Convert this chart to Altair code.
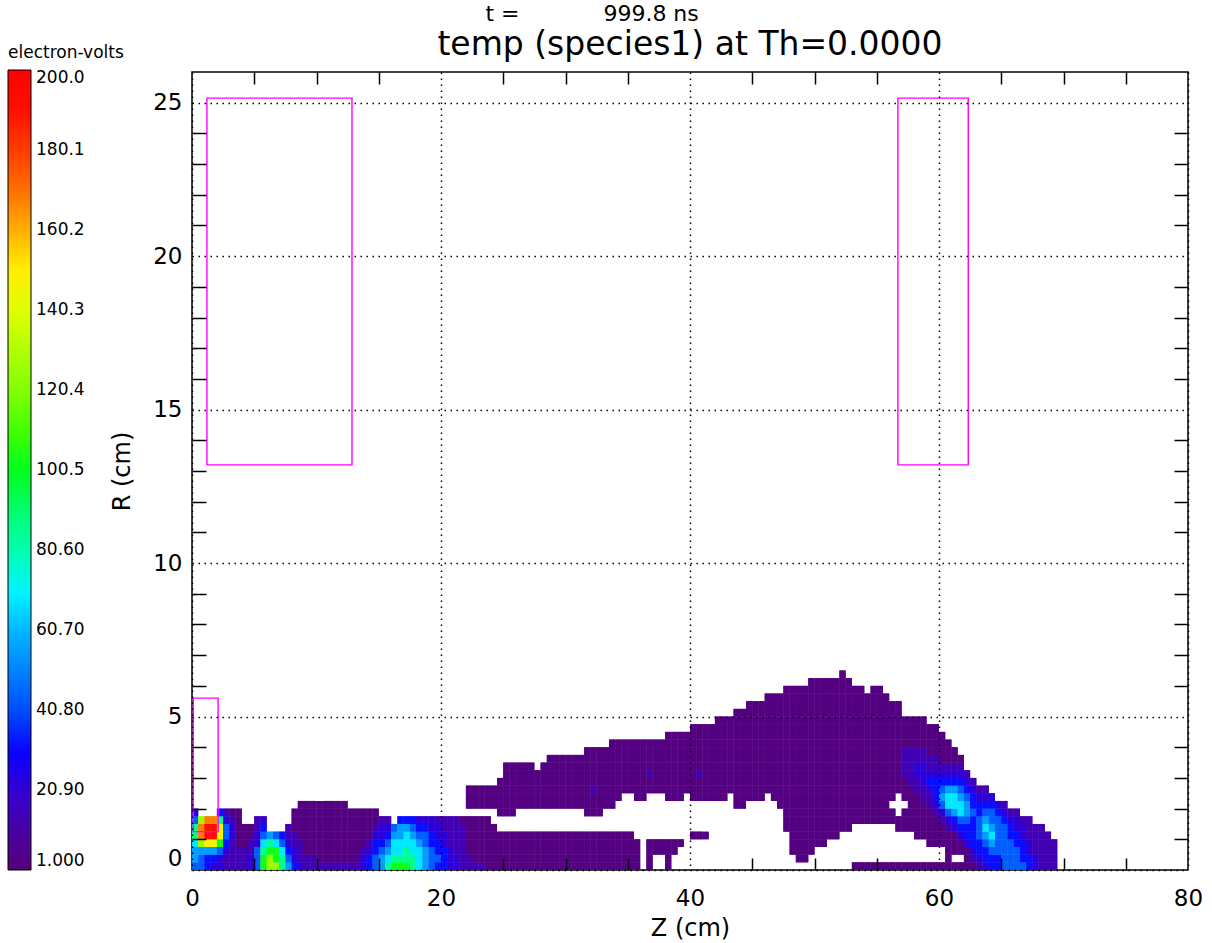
import altair as alt
import pandas as pd

# ------------------------------------------------------------------ data
FONT = "DejaVu Sans"

# field grid: each string is one Z column (width DZ), read bottom (R=0) upward,
# one character per DR-high cell; "." = no plasma, other chars = temperature level
DZ = 0.5
DR = 0.25
LEVEL_EV = {"0": 3, "1": 14, "2": 22, "3": 32, "4": 44, "5": 56, "6": 68,
            "7": 85, "8": 102, "9": 125, "a": 148, "b": 168, "c": 192}

FIELD_COLUMNS = [
    # Z 0 - 5
    "45567742", "4459bb9", "335accb", "235accb", "2248aa73",
    "11234421", "11112210", "11100000", "111000", "221100",
    # Z 5 - 10
    "4442211", "8876432", "99875", "98864", "77643",
    "543211", "32211000", "211100000", "110000000", "110000000",
    # Z 10 - 15
    "100000000", "100000000", "100000000", "100000000", "100000000",
    "10000000", "10000000", "22100000", "33210000", "44332100",
    # Z 15 - 20
    "5543221", "7654321", "876654", "8766553", "8776653",
    "7766543", "6665432", "5554432", "4443322", "3433221",
    # Z 20 - 25
    "3332211", "2221111", "2211111", "1111110", "1100000.000",
    "1000000.000", "1000000.000", "0000000.000", "000000..000", "00000..00000",
    # Z 25 - 30
    "00000..0000000", "00000..0000000", "00000...000000", "00000...000000", "00000...000000",
    "00000...00000", "00000...000000", "00000...0000000", "00000...0000000", "00000...0000000",
    # Z 30 - 35
    "00000...0000000", "00000...0000000", "00000...0000000", "00000..000000000", "00000..000100000",
    "00000..000000000", "00000...00000000", "00000...000000000", "00000....00000000", "00000.....0000000",
    # Z 35 - 40
    "00000.....0000000", "0000.....00000000", ".........00000000", "0000......0010000", "..00......0000000",
    "..00......0000000", "0000.....000000000", "..00.....000000000", "...0.....000000000", "..........00000000",
    # Z 40 - 45
    "....0....0000000000", "....0....0001000000", "....0....0000000000", ".........0000000000", ".........00000000000",
    ".........00000000000", "..........0000000000", "........0000000000000", "........0000000000000", ".........0000000000000",
    # Z 45 - 50
    ".........0000000000000", ".........0000000000000", "..........0000000000000", ".........00000000000000", "........000000000000000",
    ".....0000000000000000000", "..0000000000000000000000", ".00000000000000000000000", ".00000000000000000000000", "..00000000000000000000000",
    # Z 50 - 55
    "...0000000000000000000000", "...0000000000000000000000", "....000000000000000000000", "....000000000000000000000", ".....000000000000000000000",
    ".....00000000000000000000", "0.....000000000000000000", "0.....000000000000000000", "0.....00000000000000000", "0.....000000000000000000",
    # Z 55 - 60
    "0.....000000000000000000", "0.....00000000000000000", "0.....00.0000000000000", "0....00...000000000000", "0....000.00011110000",
    "0....000000111110000", "0...0000001122110000", "0...0000011222110000", "0..0000011232110000", "0..0000123332110000",
    # Z 60 - 65
    "0..000124543210000", "00000124665321000", "0.00023566532100", "0.0023466543210", "0002334554321",
    "012333343321", "12334443321", "23345654321", "3345654432", "334444432",
    # Z 65 - 70
    "444444321", "44443321", "44433221", "4333221", "3322111",
    "221111", "111111", "11111", "1111", "",
]

# magenta outline boxes (cm)
BOX_Z0 = [1.2, 56.7, 0.1]
BOX_Z1 = [12.85, 62.35, 2.1]
BOX_R0 = [13.2, 13.2, 1.25]
BOX_R1 = [25.15, 25.15, 5.6]

# axes
X_MAJOR = [0, 20, 40, 60, 80]
X_MINOR = [5, 10, 15, 25, 30, 35, 45, 50, 55, 65, 70, 75]
Y_MAJOR = [0, 5, 10, 15, 20, 25]
Y_MINOR = [1, 2, 3, 4, 6, 7, 8, 9, 11, 12, 13, 14, 16, 17, 18, 19, 21, 22, 23, 24]

# colour bar
CB_STOPS = [1, 10, 20, 30, 40, 50, 60, 70, 80, 90, 100, 110, 120, 130, 140,
            150, 160, 170, 180, 190, 200]
CB_COLORS = ["#550078", "#4a00a2", "#3600d0", "#0a00ff", "#0048ff", "#0080ff",
             "#00b4ff", "#00f4ff", "#00ffb4", "#00ff70", "#00ff20", "#40ff00",
             "#80ff00", "#b0ff00", "#e0ff00", "#fff000", "#ffb000", "#ff7000",
             "#ff3c00", "#ff1000", "#ff0000"]
CB_LABELS = [1.0, 20.9, 40.8, 60.7, 80.6, 100.5, 120.4, 140.3, 160.2, 180.1, 200.0]

NB = "\u00a0"
WJ = "\u2060"
TITLE_1 = "t =" + NB * 12 + "999.8 ns" + NB * 28 + WJ
TITLE_2 = "temp (species1) at Th=0.0000"

# ------------------------------------------------------------------ frames
cells = []
for c, col in enumerate(FIELD_COLUMNS):
    for r, ch in enumerate(col):
        if ch == ".":
            continue
        cells.append({"z0": c * DZ, "z1": (c + 1) * DZ,
                      "r0": r * DR, "r1": (r + 1) * DR,
                      "temp": LEVEL_EV[ch]})
heat_df = pd.DataFrame(cells)
box_df = pd.DataFrame({"z0": BOX_Z0, "z1": BOX_Z1, "r0": BOX_R0, "r1": BOX_R1})

W, H = 996, 798
xs = alt.Scale(domain=[0, 80], nice=False, zero=False)
ys = alt.Scale(domain=[0, 26], nice=False, zero=False)
cs = alt.Scale(domain=CB_STOPS, range=CB_COLORS, interpolate="rgb")

# ------------------------------------------------------------------ layers
heat = alt.Chart(heat_df).mark_rect(strokeWidth=0).encode(
    x=alt.X("z0:Q", scale=xs, axis=alt.Axis(
        orient="bottom", values=X_MAJOR, title="Z (cm)", ticks=False, tickSize=0,
        domain=False, grid=False, labelFlush=False, labelFontSize=23,
        labelPadding=17, titleFontSize=24, titlePadding=6)),
    x2="z1:Q",
    y=alt.Y("r0:Q", scale=ys, axis=alt.Axis(
        orient="left", values=Y_MAJOR, title="R (cm)", ticks=False, tickSize=0,
        domain=False, grid=False, labelFlush=True, labelFontSize=23,
        labelPadding=10, titleFontSize=24, titlePadding=18)),
    y2="r1:Q",
    color=alt.Color("temp:Q", scale=cs, legend=alt.Legend(
        type="gradient",
        title="electron-volts", orient="none", legendX=-184, legendY=-27,
        direction="vertical", gradientLength=800, gradientThickness=23,
        values=CB_LABELS, format=".4r", labelFont=FONT, labelFontSize=17,
        labelColor="black", labelOffset=5, labelOverlap=False,
        titleFont=FONT, titleFontSize=17, titleFontWeight="normal",
        titleColor="black", titlePadding=8, padding=0,
        gradientStrokeColor="black", gradientStrokeWidth=1)),
)

# same field drawn a second time so that cell seams do not show
heat_fill = alt.Chart(heat_df).mark_rect(strokeWidth=0).encode(
    x=alt.X("z0:Q", scale=xs, axis=None),
    x2="z1:Q",
    y=alt.Y("r0:Q", scale=ys, axis=None),
    y2="r1:Q",
    color=alt.Color("temp:Q", scale=cs, legend=None),
)

boxes = alt.Chart(box_df).mark_rect(filled=False, stroke="#ff00ff", strokeWidth=1.4).encode(
    x=alt.X("z0:Q", scale=xs, axis=alt.Axis(
        orient="bottom", values=X_MAJOR, grid=True, gridColor="black",
        gridDash=[1.5, 4.5], gridWidth=1.5, labels=False, ticks=False,
        domain=False, title=None, zindex=1)),
    x2="z1:Q",
    y=alt.Y("r0:Q", scale=ys, axis=alt.Axis(
        orient="left", values=Y_MAJOR, grid=True, gridColor="black",
        gridDash=[1.5, 4.5], gridWidth=1.5, labels=False, ticks=False,
        domain=False, title=None, zindex=1)),
    y2="r1:Q",
)

# inward ticks on bottom / left edges
ticks_a = alt.Chart(box_df).mark_rect(opacity=0).encode(
    x=alt.X("z0:Q", scale=xs, axis=alt.Axis(
        orient="top", offset=-H, values=X_MINOR, ticks=True, tickSize=12,
        tickColor="black", tickWidth=1.5, labels=False, domain=False,
        grid=False, title=None, zindex=1)),
    y=alt.Y("r0:Q", scale=ys, axis=alt.Axis(
        orient="right", offset=-W, values=Y_MINOR, ticks=True, tickSize=14,
        tickColor="black", tickWidth=1.5, labels=False, domain=False,
        grid=False, title=None, zindex=1)),
)

# inward ticks on top / right edges
ticks_b = alt.Chart(box_df).mark_rect(opacity=0).encode(
    x=alt.X("z1:Q", scale=xs, axis=alt.Axis(
        orient="bottom", offset=-H, values=X_MINOR, ticks=True, tickSize=12,
        tickColor="black", tickWidth=1.5, labels=False, domain=False,
        grid=False, title=None, zindex=1)),
    y=alt.Y("r1:Q", scale=ys, axis=alt.Axis(
        orient="left", offset=-W, values=Y_MINOR, ticks=True, tickSize=14,
        tickColor="black", tickWidth=1.5, labels=False, domain=False,
        grid=False, title=None, zindex=1)),
)

chart = alt.layer(heat, heat_fill, boxes, ticks_a, ticks_b).resolve_axis(
    x="independent", y="independent"
).properties(
    width=W, height=H,
    title=alt.TitleParams(
        text=TITLE_1, subtitle=TITLE_2, anchor="middle", frame="group",
        font=FONT, fontSize=22, fontWeight="normal", color="black",
        subtitleFont=FONT, subtitleFontSize=33, subtitleColor="black",
        subtitlePadding=3, offset=6, dy=24),
    autosize=alt.AutoSizeParams(type="none"),
    padding={"left": 192, "top": 72, "right": 24, "bottom": 73},
).configure_view(
    stroke="black", strokeWidth=1.5
).configure_axis(
    labelFont=FONT, titleFont=FONT, labelColor="black", titleColor="black",
    titleFontWeight="normal"
)

chart.save("out.html", embed_options={"renderer": "svg", "actions": False})
